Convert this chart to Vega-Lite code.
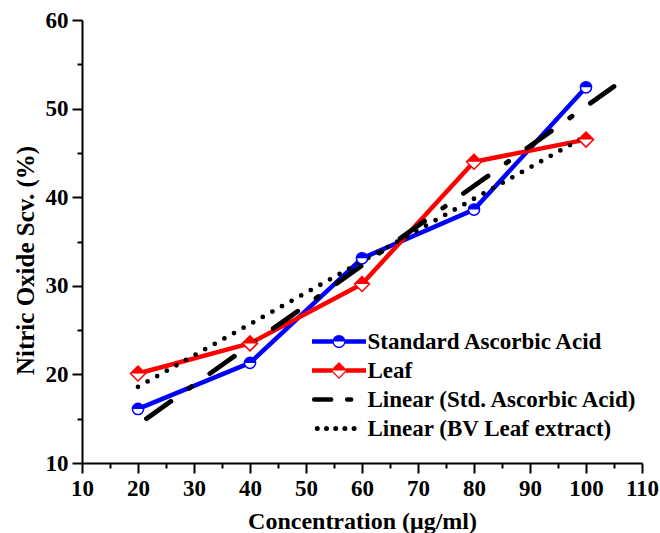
{
  "$schema": "https://vega.github.io/schema/vega-lite/v6.json",
  "width": 560,
  "height": 443,
  "autosize": {"type": "none"},
  "padding": {"left": 82, "top": 20, "right": 18, "bottom": 70},
  "background": "white",
  "config": {
    "view": {"stroke": null},
    "font": "Liberation Serif",
    "axis": {
      "grid": false,
      "domainColor": "#000000",
      "domainWidth": 2,
      "tickColor": "#000000",
      "tickWidth": 2,
      "labelFont": "Liberation Serif",
      "labelFontWeight": "bold",
      "labelFontSize": 23,
      "labelColor": "#000000",
      "titleFont": "Liberation Serif",
      "titleFontWeight": "bold",
      "titleColor": "#000000",
      "labelOverlap": false,
      "labelFlush": false
    }
  },
  "data": {
    "values": [
      {"kind": "data", "series": "Standard Ascorbic Acid", "conc": 20, "scv": 16.1},
      {"kind": "data", "series": "Standard Ascorbic Acid", "conc": 40, "scv": 21.3},
      {"kind": "data", "series": "Standard Ascorbic Acid", "conc": 60, "scv": 33.1},
      {"kind": "data", "series": "Standard Ascorbic Acid", "conc": 80, "scv": 38.6},
      {"kind": "data", "series": "Standard Ascorbic Acid", "conc": 100, "scv": 52.4},
      {"kind": "data", "series": "Leaf", "conc": 20, "scv": 20.1},
      {"kind": "data", "series": "Leaf", "conc": 40, "scv": 23.5},
      {"kind": "data", "series": "Leaf", "conc": 60, "scv": 30.2},
      {"kind": "data", "series": "Leaf", "conc": 80, "scv": 44.0},
      {"kind": "data", "series": "Leaf", "conc": 100, "scv": 46.5},
      {"kind": "fit", "series": "Linear (Std. Ascorbic Acid)", "conc": 21.5, "scv": 15.0},
      {"kind": "fit", "series": "Linear (Std. Ascorbic Acid)", "conc": 105, "scv": 52.5},
      {"kind": "fit", "series": "Linear (BV Leaf extract)", "conc": 20, "scv": 18.6},
      {"kind": "fit", "series": "Linear (BV Leaf extract)", "conc": 100, "scv": 46.9}
    ]
  },
  "encoding": {
    "x": {
      "field": "conc",
      "type": "quantitative",
      "scale": {"domain": [10, 110], "nice": false, "zero": false},
      "axis": {
        "title": "Concentration (μg/ml)",
        "titleFontSize": 24,
        "values": [10, 15, 20, 25, 30, 35, 40, 45, 50, 55, 60, 65, 70, 75, 80, 85, 90, 95, 100, 105, 110],
        "labelExpr": "datum.value % 10 === 0 ? datum.label : ''",
        "tickSize": {"condition": {"test": "datum.value % 10 === 0", "value": 10}, "value": 5},
        "labelPadding": 4,
        "titlePadding": 9
      }
    },
    "y": {
      "field": "scv",
      "type": "quantitative",
      "scale": {"domain": [10, 60], "nice": false, "zero": false},
      "axis": {
        "title": "Nitric Oxide Scv. (%)",
        "titleFontSize": 25,
        "titleY": 240,
        "values": [10, 15, 20, 25, 30, 35, 40, 45, 50, 55, 60],
        "labelExpr": "datum.value % 10 === 0 ? datum.label : ''",
        "tickSize": {"condition": {"test": "datum.value % 10 === 0", "value": 10}, "value": 5},
        "labelPadding": 4,
        "titlePadding": 7
      }
    }
  },
  "layer": [
    {
      "transform": [{"filter": "datum.kind === 'data'"}],
      "mark": {"type": "line", "strokeWidth": 4.5, "strokeCap": "round", "strokeJoin": "round"},
      "encoding": {
        "color": {
          "field": "series",
          "type": "nominal",
          "scale": {
            "domain": ["Standard Ascorbic Acid", "Leaf", "Linear (Std. Ascorbic Acid)", "Linear (BV Leaf extract)"],
            "range": ["#0000ff", "#ff0000", "#000000", "#000000"]
          },
          "legend": {
            "title": null,
            "orient": "none",
            "legendX": 245.5,
            "legendY": 310,
            "padding": 0,
            "symbolSize": 196,
            "labelOffset": 17,
            "labelFont": "Liberation Serif",
            "labelFontWeight": "bold",
            "labelFontSize": 23,
            "labelColor": "#000000",
            "labelLimit": 400,
            "rowPadding": 5,
            "encode": {
              "symbols": {
                "update": {
                  "shape": {"signal": "datum.value === 'Standard Ascorbic Acid' ? 'M-3.86,-0.32H-0.9V0.32H-3.86Z M0.9,-0.32H3.86V0.32H0.9Z M-0.93,0A0.93,0.93 0 0 1 0.93,0Z M0.93,0A0.93,0.93 0 0 1 -0.93,0H-0.74A0.74,0.74 0 0 0 0.74,0Z' : datum.value === 'Leaf' ? 'M-3.86,-0.32H-1V0.32H-3.86Z M1,-0.32H3.86V0.32H1Z M-1.21,0L0,-1.21L1.21,0Z M1.21,0L0,1.21L-1.21,0H-0.95L0,0.95L0.95,0Z' : datum.value === 'Linear (Std. Ascorbic Acid)' ? 'M-3.55,0H3.86' : 'M-3.1,0H2.2'"},
                  "fill": {"signal": "datum.value === 'Standard Ascorbic Acid' ? '#0000ff' : datum.value === 'Leaf' ? '#ff0000' : 'transparent'"},
                  "stroke": {"value": "#000000"},
                  "strokeWidth": {"signal": "datum.value === 'Standard Ascorbic Acid' || datum.value === 'Leaf' ? 0 : datum.value === 'Linear (Std. Ascorbic Acid)' ? 4.5 : 5"},
                  "strokeDash": {"signal": "datum.value === 'Linear (Std. Ascorbic Acid)' ? [17, 16, 4, 100] : [0, 9.2]"},
                  "strokeCap": {"value": "round"},
                  "opacity": {"value": 1}
                }
              }
            }
          }
        }
      }
    },
    {
      "transform": [{"filter": "datum.kind === 'fit'"}],
      "mark": {"type": "line", "strokeWidth": 4.8, "strokeCap": "round"},
      "encoding": {
        "color": {"field": "series", "type": "nominal"},
        "strokeDash": {
          "field": "series",
          "type": "nominal",
          "scale": {
            "domain": ["Linear (Std. Ascorbic Acid)", "Linear (BV Leaf extract)"],
            "range": [[30, 22.4, 3, 22.4], [0, 11]]
          },
          "legend": null
        }
      }
    },
    {
      "transform": [{"filter": "datum.series === 'Standard Ascorbic Acid'"}],
      "mark": {"type": "point", "shape": "circle", "filled": true, "fill": "#ffffff", "stroke": "#0000ff", "strokeWidth": 1.5, "size": 125, "opacity": 1}
    },
    {
      "transform": [{"filter": "datum.series === 'Standard Ascorbic Acid'"}],
      "mark": {"type": "point", "shape": "M-1,0A1,1 0 0 1 1,0Z", "filled": true, "fill": "#0000ff", "strokeWidth": 0, "size": 125, "opacity": 1}
    },
    {
      "transform": [{"filter": "datum.series === 'Leaf'"}],
      "mark": {"type": "point", "shape": "M-1,0L0,-1L1,0L0,1Z", "filled": true, "fill": "#ffffff", "stroke": "#ff0000", "strokeWidth": 1.5, "size": 225, "opacity": 1}
    },
    {
      "transform": [{"filter": "datum.series === 'Leaf'"}],
      "mark": {"type": "point", "shape": "M-1,0L0,-1L1,0Z", "filled": true, "fill": "#ff0000", "strokeWidth": 0, "size": 225, "opacity": 1}
    }
  ]
}
